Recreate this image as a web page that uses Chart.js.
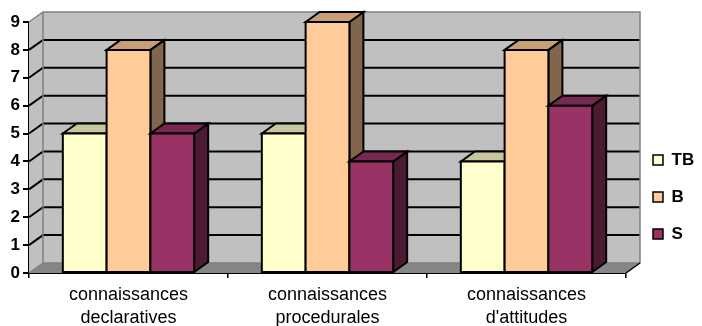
<!DOCTYPE html>
<html>
<head>
<meta charset="utf-8">
<script src="https://cdn.jsdelivr.net/npm/chart.js@4/dist/chart.umd.min.js"></script>
<style>
  html, body { margin: 0; padding: 0; background: #fff; }
</style>
</head>
<body>
<canvas id="chart" width="702" height="326"></canvas>
<script>
// ── data ────────────────────────────────────────────────────────────────
const CATEGORIES = [
  ["connaissances", "declaratives"],
  ["connaissances", "procedurales"],
  ["connaissances", "d'attitudes"],
];
const SERIES_NAMES = ["TB", "B", "S"];
const TB_VALUES = [5, 5, 4];
const B_VALUES  = [8, 9, 8];
const S_VALUES  = [5, 4, 6];
const Y_MIN = 0, Y_MAX = 9, Y_STEP = 1;

// ── look ────────────────────────────────────────────────────────────────
const FRONT_COLORS = ["#FFFFCC", "#FFCC99", "#993366"];
const DEPTH_X = 14, DEPTH_Y = -10;      // 3D offset of the back plane
const FONT = "'Liberation Sans', Arial, sans-serif";

function shade(hex, f) {
  const n = parseInt(hex.slice(1), 16);
  const r = Math.round(((n >> 16) & 255) * f);
  const g = Math.round(((n >> 8) & 255) * f);
  const b = Math.round((n & 255) * f);
  return `rgb(${r},${g},${b})`;
}

function poly(ctx, pts, fill, stroke, lw) {
  ctx.beginPath();
  ctx.moveTo(pts[0][0], pts[0][1]);
  for (let i = 1; i < pts.length; i++) ctx.lineTo(pts[i][0], pts[i][1]);
  ctx.closePath();
  if (fill) { ctx.fillStyle = fill; ctx.fill(); }
  if (stroke) { ctx.strokeStyle = stroke; ctx.lineWidth = lw; ctx.stroke(); }
}

// walls, floor, gridlines and 3D columns
const box3d = {
  id: "box3d",
  beforeDatasetsDraw(chart) {
    const { ctx, chartArea: a, scales: { y } } = chart;
    const dx = DEPTH_X, dy = DEPTH_Y;
    ctx.save();
    ctx.lineJoin = "miter";

    // back wall
    poly(ctx, [[a.left + dx, a.top + dy], [a.right + dx, a.top + dy],
               [a.right + dx, a.bottom + dy], [a.left + dx, a.bottom + dy]], "#C0C0C0");
    // side wall
    poly(ctx, [[a.left, a.top], [a.left + dx, a.top + dy],
               [a.left + dx, a.bottom + dy], [a.left, a.bottom]], "#C0C0C0");
    // floor
    poly(ctx, [[a.left, a.bottom], [a.right, a.bottom],
               [a.right + dx, a.bottom + dy], [a.left + dx, a.bottom + dy]], "#868686");

    // gridlines on side + back wall
    y.ticks.forEach(t => {
      if (t.value <= Y_MIN || t.value >= Y_MAX) return;
      const py = y.getPixelForValue(t.value);
      ctx.beginPath();
      ctx.moveTo(a.left, py);
      ctx.lineTo(a.left + dx, py + dy);
      ctx.lineTo(a.right + dx, py + dy);
      ctx.strokeStyle = "#000";
      ctx.lineWidth = 2;
      ctx.stroke();
    });

    // grey wall edges
    ctx.beginPath();
    ctx.moveTo(a.left, a.top);
    ctx.lineTo(a.left + dx, a.top + dy);
    ctx.lineTo(a.right + dx, a.top + dy);
    ctx.lineTo(a.right + dx, a.bottom + dy);
    ctx.lineTo(a.left + dx, a.bottom + dy);
    ctx.lineTo(a.left + dx, a.top + dy);
    ctx.moveTo(a.left, a.bottom);
    ctx.lineTo(a.left + dx, a.bottom + dy);
    ctx.strokeStyle = "#808080";
    ctx.lineWidth = 1.5;
    ctx.stroke();
    // floor right edge
    ctx.beginPath();
    ctx.moveTo(a.right, a.bottom);
    ctx.lineTo(a.right + dx, a.bottom + dy);
    ctx.strokeStyle = "#000";
    ctx.lineWidth = 1.5;
    ctx.stroke();

    // columns: per category, left to right
    const n = chart.data.labels.length;
    for (let i = 0; i < n; i++) {
      chart.data.datasets.forEach((ds, d) => {
        const el = chart.getDatasetMeta(d).data[i];
        const { x, y: top, base, width } = el.getProps(["x", "y", "base", "width"], true);
        const l = x - width / 2, r = x + width / 2;
        const c = FRONT_COLORS[d];
        poly(ctx, [[r, top], [r + dx, top + dy], [r + dx, base + dy], [r, base]], shade(c, 0.5), "#000", 2);
        poly(ctx, [[l, top], [l + dx, top + dy], [r + dx, top + dy], [r, top]], shade(c, 0.78), "#000", 2);
        poly(ctx, [[l, top], [r, top], [r, base], [l, base]], c, "#000", 2);
      });
    }
    ctx.restore();
    return false;
  },
};

const datasets = [TB_VALUES, B_VALUES, S_VALUES].map((vals, d) => ({
  label: SERIES_NAMES[d],
  data: vals,
  backgroundColor: FRONT_COLORS[d],
  borderColor: "#000",
  borderWidth: 1.5,
  categoryPercentage: 0.66,
  barPercentage: 1.0,
}));

new Chart(document.getElementById("chart"), {
  type: "bar",
  data: { labels: CATEGORIES, datasets },
  plugins: [box3d],
  options: {
    responsive: false,
    animation: false,
    devicePixelRatio: 1,
    layout: { padding: { top: 22, right: 0, left: 0, bottom: 0 } },
    plugins: {
      tooltip: { enabled: false },
      legend: {
        position: "right",
        maxWidth: 69,
        title: { display: true, text: "", font: { size: 10 }, padding: 17 },
        labels: {
          boxWidth: 10, boxHeight: 10, padding: 20, color: "#000",
          font: { family: FONT, size: 17, weight: "bold" },
        },
      },
    },
    scales: {
      x: {
        z: 1,
        grid: { offset: true, drawOnChartArea: false, drawTicks: true, tickLength: 5, color: "#000", lineWidth: 1.5 },
        border: { display: true, color: "#000", width: 2 },
        ticks: { color: "#000", padding: 6, maxRotation: 0, autoSkip: false,
                 font: { family: FONT, size: 18, lineHeight: 1.25 } },
        afterFit(s) { s.height = 53; },
      },
      y: {
        z: 1,
        min: Y_MIN, max: Y_MAX,
        grid: { drawOnChartArea: false, drawTicks: true, tickLength: 6, color: "#000", lineWidth: 2 },
        border: { display: true, color: "#000", width: 2 },
        ticks: { stepSize: Y_STEP, color: "#000", padding: 3,
                 font: { family: FONT, size: 17, weight: "bold" } },
        afterFit(s) { s.width = 29; },
      },
      // empty spacer between the plot and the legend
      yR: {
        position: "right",
        grid: { display: false },
        border: { display: false },
        ticks: { display: false },
        afterFit(s) { s.width = 7; },
      },
    },
  },
});
</script>
</body>
</html>
